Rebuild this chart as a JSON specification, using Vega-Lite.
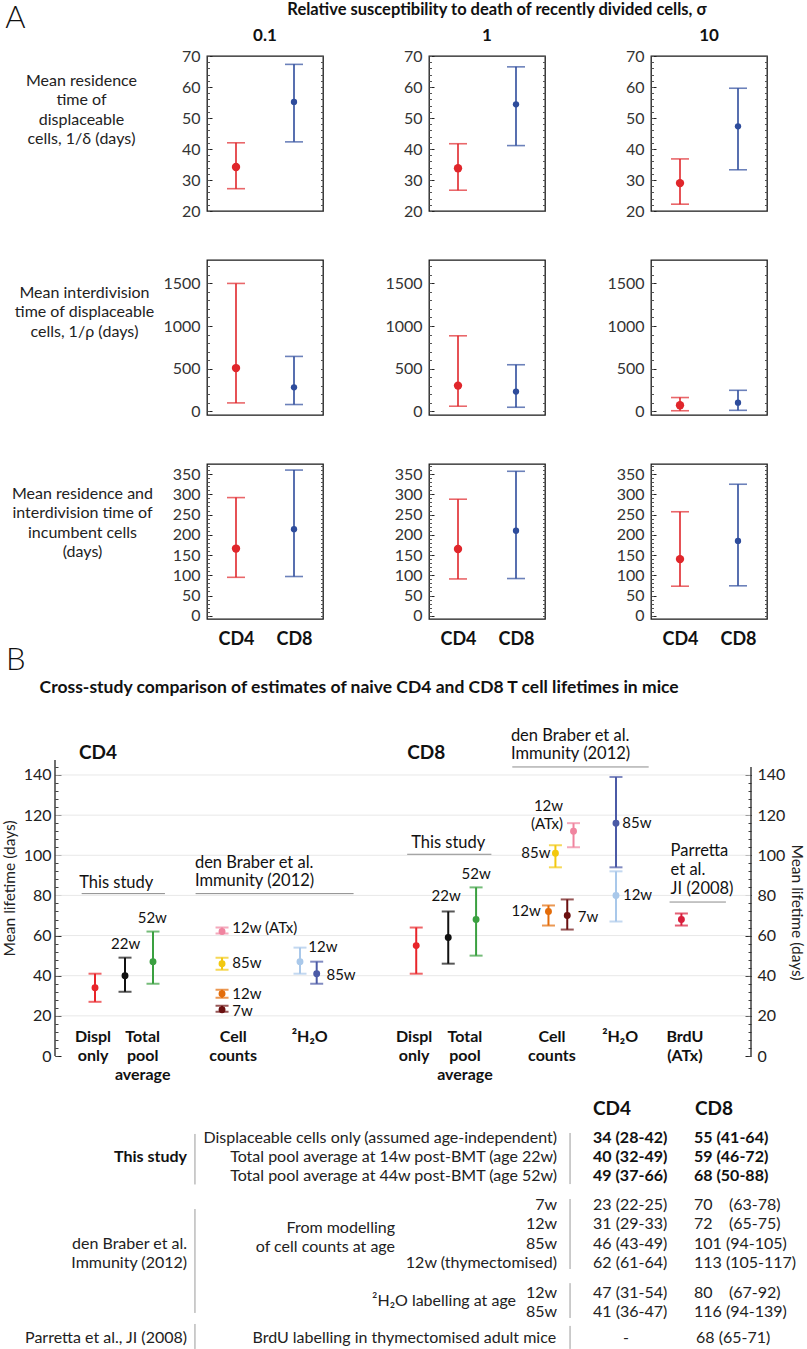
{
"$schema":"https://vega.github.io/schema/vega-lite/v6.json",
"background":"white",
"padding":{"left":2,"top":2,"right":2,"bottom":0},
"config":{"font":"Lato","view":{"stroke":null},"axis":{"labelFont":"Lato","titleFont":"Lato","labelOverlap":false},"text":{"font":"Lato"}},
"columns":3,
"bounds":"flush",
"align":{"row":"each","column":"each"},
"spacing":{"row":49,"column":106},
"resolve":{"scale":{"color":"independent","size":"independent"}},
"datasets":{
"A":[
{"row":1,"sigma":"0.1","cell":"CD4","m":34.2,"lo":27.2,"hi":42.0},
{"row":1,"sigma":"0.1","cell":"CD8","m":55.2,"lo":42.3,"hi":67.3},
{"row":1,"sigma":"1","cell":"CD4","m":33.8,"lo":26.7,"hi":41.7},
{"row":1,"sigma":"1","cell":"CD8","m":54.4,"lo":41.1,"hi":66.5},
{"row":1,"sigma":"10","cell":"CD4","m":29.0,"lo":22.2,"hi":36.8},
{"row":1,"sigma":"10","cell":"CD8","m":47.3,"lo":33.3,"hi":59.6},
{"row":2,"sigma":"0.1","cell":"CD4","m":506,"lo":97,"hi":1500},
{"row":2,"sigma":"0.1","cell":"CD8","m":280,"lo":78,"hi":643},
{"row":2,"sigma":"1","cell":"CD4","m":300,"lo":58,"hi":885},
{"row":2,"sigma":"1","cell":"CD8","m":230,"lo":46,"hi":545},
{"row":2,"sigma":"10","cell":"CD4","m":70,"lo":5,"hi":160},
{"row":2,"sigma":"10","cell":"CD8","m":100,"lo":10,"hi":245},
{"row":3,"sigma":"0.1","cell":"CD4","m":166,"lo":95,"hi":292},
{"row":3,"sigma":"0.1","cell":"CD8","m":214,"lo":97,"hi":360},
{"row":3,"sigma":"1","cell":"CD4","m":165,"lo":91,"hi":288},
{"row":3,"sigma":"1","cell":"CD8","m":210,"lo":92,"hi":357},
{"row":3,"sigma":"10","cell":"CD4","m":140,"lo":73,"hi":257},
{"row":3,"sigma":"10","cell":"CD8","m":185,"lo":74,"hi":325}
],
"B":[
{"cell":"CD4","series":"Displ","xpos":5.75,"m":34,"lo":27,"hi":41},
{"cell":"CD4","series":"Total 22w","xpos":10.06,"m":40,"lo":32,"hi":49},
{"cell":"CD4","series":"Total 52w","xpos":14.08,"m":47,"lo":36,"hi":62},
{"cell":"CD4","series":"Counts 12w ATx","xpos":24.0,"m":62,"lo":61,"hi":64},
{"cell":"CD4","series":"Counts 85w","xpos":24.0,"m":46,"lo":43,"hi":49},
{"cell":"CD4","series":"Counts 12w","xpos":24.0,"m":31,"lo":29,"hi":33},
{"cell":"CD4","series":"Counts 7w","xpos":24.0,"m":23,"lo":22,"hi":25},
{"cell":"CD4","series":"2H2O 12w","xpos":35.2,"m":47,"lo":41,"hi":54},
{"cell":"CD4","series":"2H2O 85w","xpos":37.6,"m":41,"lo":36,"hi":47},
{"cell":"CD8","series":"Displ","xpos":51.9,"m":55,"lo":41,"hi":64},
{"cell":"CD8","series":"Total 22w","xpos":56.5,"m":59,"lo":46,"hi":72},
{"cell":"CD8","series":"Total 52w","xpos":60.5,"m":68,"lo":50,"hi":84},
{"cell":"CD8","series":"Counts 12w","xpos":70.9,"m":72,"lo":65,"hi":75},
{"cell":"CD8","series":"Counts 85w","xpos":71.9,"m":101,"lo":94,"hi":105},
{"cell":"CD8","series":"Counts 7w","xpos":73.6,"m":70,"lo":63,"hi":78},
{"cell":"CD8","series":"Counts 12w ATx","xpos":74.5,"m":112,"lo":104,"hi":116},
{"cell":"CD8","series":"2H2O 85w","xpos":80.6,"m":116,"lo":94,"hi":139},
{"cell":"CD8","series":"2H2O 12w","xpos":80.6,"m":80,"lo":67,"hi":92},
{"cell":"CD8","series":"BrdU ATx","xpos":90.0,"m":68,"lo":65,"hi":71}
],
"Bgrid":[{"v":20},{"v":40},{"v":60},{"v":80},{"v":100},{"v":120},{"v":140}],
"Blines":[
{"x1":3.83,"x2":15.8,"y":80.9},
{"x1":20.2,"x2":42.9,"y":80.9},
{"x1":50.6,"x2":62.7,"y":100.5},
{"x1":65.7,"x2":85.3,"y":144.0},
{"x1":88.3,"x2":96.4,"y":76.7}
],
"Blab":[
{"text":"22w","x":10.15,"y":55.6,"cls":"tag","pos":"center"},
{"text":"52w","x":13.98,"y":68.9,"cls":"tag","pos":"center"},
{"text":"12w (ATx)","x":25.48,"y":63.6,"cls":"tag","pos":"after"},
{"text":"85w","x":25.48,"y":46.5,"cls":"tag","pos":"after"},
{"text":"12w","x":25.48,"y":30.7,"cls":"tag","pos":"after"},
{"text":"7w","x":25.48,"y":22.4,"cls":"tag","pos":"after"},
{"text":"12w","x":36.4,"y":54.3,"cls":"tag","pos":"after"},
{"text":"85w","x":39.0,"y":40.4,"cls":"tag","pos":"after"},
{"text":"22w","x":56.2,"y":79.7,"cls":"tag","pos":"center"},
{"text":"52w","x":60.5,"y":90.5,"cls":"tag","pos":"center"},
{"text":"12w\n(ATx)","x":73.0,"y":127.8,"cls":"tag2","pos":"before"},
{"text":"85w","x":71.2,"y":101.0,"cls":"tag","pos":"before"},
{"text":"12w","x":69.8,"y":72.2,"cls":"tag","pos":"before"},
{"text":"7w","x":75.1,"y":69.3,"cls":"tag","pos":"after"},
{"text":"85w","x":81.5,"y":115.9,"cls":"tag","pos":"after"},
{"text":"12w","x":81.6,"y":80.2,"cls":"tag","pos":"after"},
{"text":"This study","x":8.8,"y":86.3,"cls":"grp","pos":"center"},
{"text":"This study","x":56.5,"y":106.3,"cls":"grp","pos":"center"},
{"text":"den Braber et al.\nImmunity (2012)","x":20.1,"y":100.3,"cls":"grpm","pos":"after"},
{"text":"den Braber et al.\nImmunity (2012)","x":65.5,"y":163.6,"cls":"grpm","pos":"after"},
{"text":"Parretta\net al.\nJI (2008)","x":88.45,"y":106.0,"cls":"grpm","pos":"after"},
{"text":"Displ\nonly","x":5.46,"y":13.6,"cls":"cat","pos":"center"},
{"text":"Total\npool\naverage","x":12.6,"y":13.6,"cls":"cat","pos":"center"},
{"text":"Cell\ncounts","x":25.6,"y":13.6,"cls":"cat","pos":"center"},
{"text":"²H₂O","x":36.6,"y":13.6,"cls":"cat","pos":"center"},
{"text":"Displ\nonly","x":51.6,"y":13.6,"cls":"cat","pos":"center"},
{"text":"Total\npool\naverage","x":58.9,"y":13.6,"cls":"cat","pos":"center"},
{"text":"Cell\ncounts","x":71.4,"y":13.6,"cls":"cat","pos":"center"},
{"text":"²H₂O","x":81.2,"y":13.6,"cls":"cat","pos":"center"},
{"text":"BrdU\n(ATx)","x":90.5,"y":13.6,"cls":"cat","pos":"center"},
{"text":"CD4","x":3.45,"y":151,"cls":"head","pos":"after"},
{"text":"CD8","x":50.6,"y":151,"cls":"head","pos":"after"},
{"text":"Cross-study comparison of estimates of naive CD4 and CD8 T cell lifetimes in mice","x":43.7,"y":183.4,"cls":"title","pos":"center"},
{"text":"B","x":-5.65,"y":196.8,"cls":"panel","pos":"center"},
{"text":"A","x":-5.68,"y":516.8,"cls":"panel","pos":"center"},
{"text":"Relative susceptibility to death of recently divided cells, σ","x":63.5,"y":521.0,"cls":"atitle","pos":"center"},
{"text":"0.1","x":30.17,"y":508.3,"cls":"acol","pos":"center"},
{"text":"1","x":62.07,"y":508.3,"cls":"acol","pos":"center"},
{"text":"10","x":93.97,"y":508.3,"cls":"acol","pos":"center"}
],
"T":[
{"kind":"head","grp":"h","c":77.3,"r":0,"text":"CD4"},
{"kind":"head","grp":"h","c":91.95,"r":0,"text":"CD8"},
{"kind":"src","grp":"this","c":18.97,"r":2.48,"text":"This study"},
{"kind":"lab","grp":"this","c":72.13,"r":1.5,"text":"Displaceable cells only (assumed age-independent)"},
{"kind":"lab","grp":"this","c":72.13,"r":2.48,"text":"Total pool average at 14w post-BMT (age 22w)"},
{"kind":"lab","grp":"this","c":72.13,"r":3.46,"text":"Total pool average at 44w post-BMT (age 52w)"},
{"kind":"val","grp":"this","c":77.3,"r":1.5,"text":"34 (28-42)"},
{"kind":"val","grp":"this","c":91.81,"r":1.5,"text":"55 (41-64)"},
{"kind":"val","grp":"this","c":77.3,"r":2.48,"text":"40 (32-49)"},
{"kind":"val","grp":"this","c":91.81,"r":2.48,"text":"59 (46-72)"},
{"kind":"val","grp":"this","c":77.3,"r":3.46,"text":"49 (37-66)"},
{"kind":"val","grp":"this","c":91.81,"r":3.46,"text":"68 (50-88)"},
{"kind":"src","grp":"dbr","c":18.97,"r":6.98,"text":"den Braber et al."},
{"kind":"src","grp":"dbr","c":18.97,"r":7.96,"text":"Immunity (2012)"},
{"kind":"lab","grp":"dbr","c":48.85,"r":6.15,"text":"From modelling"},
{"kind":"lab","grp":"dbr","c":48.85,"r":7.13,"text":"of cell counts at age"},
{"kind":"lab","grp":"dbr","c":72.13,"r":4.96,"text":"7w"},
{"kind":"lab","grp":"dbr","c":72.13,"r":5.94,"text":"12w"},
{"kind":"lab","grp":"dbr","c":72.13,"r":6.98,"text":"85w"},
{"kind":"lab","grp":"dbr","c":72.13,"r":7.96,"text":"12w (thymectomised)"},
{"kind":"lab","grp":"dbr","c":66.24,"r":9.92,"text":"²H₂O labelling at age"},
{"kind":"lab","grp":"dbr","c":72.13,"r":9.51,"text":"12w"},
{"kind":"lab","grp":"dbr","c":72.13,"r":10.49,"text":"85w"},
{"kind":"val","grp":"dbr","c":77.3,"r":4.96,"text":"23 (22-25)"},
{"kind":"val","grp":"dbr","c":91.81,"r":4.96,"text":"70\u00a0\u00a0\u00a0 (63-78)"},
{"kind":"val","grp":"dbr","c":77.3,"r":5.94,"text":"31 (29-33)"},
{"kind":"val","grp":"dbr","c":91.81,"r":5.94,"text":"72\u00a0\u00a0\u00a0 (65-75)"},
{"kind":"val","grp":"dbr","c":77.3,"r":6.98,"text":"46 (43-49)"},
{"kind":"val","grp":"dbr","c":91.81,"r":6.98,"text":"101 (94-105)"},
{"kind":"val","grp":"dbr","c":77.3,"r":7.96,"text":"62 (61-64)"},
{"kind":"val","grp":"dbr","c":91.81,"r":7.96,"text":"113 (105-117)"},
{"kind":"val","grp":"dbr","c":77.3,"r":9.51,"text":"47 (31-54)"},
{"kind":"val","grp":"dbr","c":91.81,"r":9.51,"text":"80\u00a0\u00a0\u00a0 (67-92)"},
{"kind":"val","grp":"dbr","c":77.3,"r":10.49,"text":"41 (36-47)"},
{"kind":"val","grp":"dbr","c":91.81,"r":10.49,"text":"116 (94-139)"},
{"kind":"src","grp":"par","c":18.97,"r":11.83,"text":"Parretta et al., JI (2008)"},
{"kind":"lab","grp":"par","c":72.0,"r":11.83,"text":"BrdU labelling in thymectomised adult mice"},
{"kind":"val","grp":"par","c":81.6,"r":11.83,"text":"-"},
{"kind":"val","grp":"par","c":92.1,"r":11.83,"text":"68 (65-71)"}
],
"Tsep":[
{"c":20.11,"r1":1.29,"r2":3.9},
{"c":20.11,"r1":5.17,"r2":10.54},
{"c":20.11,"r1":11.11,"r2":12.4},
{"c":74.0,"r1":1.24,"r2":3.88},
{"c":74.0,"r1":4.65,"r2":8.27},
{"c":74.0,"r1":9.0,"r2":10.8},
{"c":74.0,"r1":11.21,"r2":12.4}
]
},
"concat":[
{"width":116,"height":155,"view":{"stroke":"#1a1a1a","strokeWidth":1.3},"data":{"name":"A"},"transform":[{"filter":"datum.row == 1 && datum.sigma == '0.1'"}],
"encoding":{"x":{"field":"cell","type":"nominal","scale":{"type":"point","padding":0.5,"domain":["CD4","CD8"]},"axis":null},"color":{"field":"cell","type":"nominal","scale":{"domain":["CD4","CD8"],"range":["#e0262b","#2e4c9c"]},"legend":null}},
"layer":[
{"mark":{"type":"rule","strokeWidth":1.6},"encoding":{"y":{"field":"lo","type":"quantitative","scale":{"domain":[20,70],"nice":false,"zero":false},"axis":{"orient":"left","values":[20,30,40,50,60,70],"format":"d","domain":false,"grid":false,"tickSize":-5,"tickColor":"#222","labelPadding":12,"labelFontSize":16,"labelColor":"#333","title":["Mean residence","time of","displaceable","cells, 1/δ (days)"],"titleAngle":0,"titleAlign":"center","titleBaseline":"top","titleX":-126,"titleY":16,"titleFontSize":16,"titleFontWeight":"normal","titleLineHeight":19.5,"titleColor":"#222"}},"y2":{"field":"hi"}}},
{"mark":{"type":"tick","orient":"horizontal","size":18,"thickness":1.6},"encoding":{"y":{"field":"lo","type":"quantitative","scale":{"domain":[20,70],"nice":false,"zero":false},"axis":{"orient":"left","tickCount":25,"labels":false,"title":null,"domain":false,"grid":false,"tickSize":-2.5,"tickColor":"#555"}}}},
{"mark":{"type":"tick","orient":"horizontal","size":18,"thickness":1.6},"encoding":{"y":{"field":"hi","type":"quantitative","scale":{"domain":[20,70],"nice":false,"zero":false},"axis":{"orient":"right","tickCount":25,"labels":false,"title":null,"domain":false,"grid":false,"tickSize":-2.5,"tickColor":"#555"}}}},
{"mark":{"type":"circle","opacity":1},"encoding":{"y":{"field":"m","type":"quantitative","scale":{"domain":[20,70],"nice":false,"zero":false},"axis":null},"size":{"field":"cell","type":"nominal","scale":{"domain":["CD4","CD8"],"range":[70,40]},"legend":null}}}
],"resolve":{"axis":{"y":"independent"}}},
{"width":116,"height":155,"view":{"stroke":"#1a1a1a","strokeWidth":1.3},"data":{"name":"A"},"transform":[{"filter":"datum.row == 1 && datum.sigma == '1'"}],
"encoding":{"x":{"field":"cell","type":"nominal","scale":{"type":"point","padding":0.5,"domain":["CD4","CD8"]},"axis":null},"color":{"field":"cell","type":"nominal","scale":{"domain":["CD4","CD8"],"range":["#e0262b","#2e4c9c"]},"legend":null}},
"layer":[
{"mark":{"type":"rule","strokeWidth":1.6},"encoding":{"y":{"field":"lo","type":"quantitative","scale":{"domain":[20,70],"nice":false,"zero":false},"axis":{"orient":"left","values":[20,30,40,50,60,70],"format":"d","title":null,"domain":false,"grid":false,"tickSize":-5,"tickColor":"#222","labelPadding":12,"labelFontSize":16,"labelColor":"#333"}},"y2":{"field":"hi"}}},
{"mark":{"type":"tick","orient":"horizontal","size":18,"thickness":1.6},"encoding":{"y":{"field":"lo","type":"quantitative","scale":{"domain":[20,70],"nice":false,"zero":false},"axis":{"orient":"left","tickCount":25,"labels":false,"title":null,"domain":false,"grid":false,"tickSize":-2.5,"tickColor":"#555"}}}},
{"mark":{"type":"tick","orient":"horizontal","size":18,"thickness":1.6},"encoding":{"y":{"field":"hi","type":"quantitative","scale":{"domain":[20,70],"nice":false,"zero":false},"axis":{"orient":"right","tickCount":25,"labels":false,"title":null,"domain":false,"grid":false,"tickSize":-2.5,"tickColor":"#555"}}}},
{"mark":{"type":"circle","opacity":1},"encoding":{"y":{"field":"m","type":"quantitative","scale":{"domain":[20,70],"nice":false,"zero":false},"axis":null},"size":{"field":"cell","type":"nominal","scale":{"domain":["CD4","CD8"],"range":[70,40]},"legend":null}}}
],"resolve":{"axis":{"y":"independent"}}},
{"width":116,"height":155,"view":{"stroke":"#1a1a1a","strokeWidth":1.3},"data":{"name":"A"},"transform":[{"filter":"datum.row == 1 && datum.sigma == '10'"}],
"encoding":{"x":{"field":"cell","type":"nominal","scale":{"type":"point","padding":0.5,"domain":["CD4","CD8"]},"axis":null},"color":{"field":"cell","type":"nominal","scale":{"domain":["CD4","CD8"],"range":["#e0262b","#2e4c9c"]},"legend":null}},
"layer":[
{"mark":{"type":"rule","strokeWidth":1.6},"encoding":{"y":{"field":"lo","type":"quantitative","scale":{"domain":[20,70],"nice":false,"zero":false},"axis":{"orient":"left","values":[20,30,40,50,60,70],"format":"d","title":null,"domain":false,"grid":false,"tickSize":-5,"tickColor":"#222","labelPadding":12,"labelFontSize":16,"labelColor":"#333"}},"y2":{"field":"hi"}}},
{"mark":{"type":"tick","orient":"horizontal","size":18,"thickness":1.6},"encoding":{"y":{"field":"lo","type":"quantitative","scale":{"domain":[20,70],"nice":false,"zero":false},"axis":{"orient":"left","tickCount":25,"labels":false,"title":null,"domain":false,"grid":false,"tickSize":-2.5,"tickColor":"#555"}}}},
{"mark":{"type":"tick","orient":"horizontal","size":18,"thickness":1.6},"encoding":{"y":{"field":"hi","type":"quantitative","scale":{"domain":[20,70],"nice":false,"zero":false},"axis":{"orient":"right","tickCount":25,"labels":false,"title":null,"domain":false,"grid":false,"tickSize":-2.5,"tickColor":"#555"}}}},
{"mark":{"type":"circle","opacity":1},"encoding":{"y":{"field":"m","type":"quantitative","scale":{"domain":[20,70],"nice":false,"zero":false},"axis":null},"size":{"field":"cell","type":"nominal","scale":{"domain":["CD4","CD8"],"range":[70,40]},"legend":null}}}
],"resolve":{"axis":{"y":"independent"}}},
{"width":116,"height":155,"view":{"stroke":"#1a1a1a","strokeWidth":1.3},"data":{"name":"A"},"transform":[{"filter":"datum.row == 2 && datum.sigma == '0.1'"}],
"encoding":{"x":{"field":"cell","type":"nominal","scale":{"type":"point","padding":0.5,"domain":["CD4","CD8"]},"axis":null},"color":{"field":"cell","type":"nominal","scale":{"domain":["CD4","CD8"],"range":["#e0262b","#2e4c9c"]},"legend":null}},
"layer":[
{"mark":{"type":"rule","strokeWidth":1.6},"encoding":{"y":{"field":"lo","type":"quantitative","scale":{"domain":[-45,1775],"nice":false,"zero":false},"axis":{"orient":"left","values":[0,500,1000,1500],"format":"d","domain":false,"grid":false,"tickSize":-5,"tickColor":"#222","labelPadding":12,"labelFontSize":16,"labelColor":"#333","title":["Mean interdivision","time of displaceable","cells, 1/ρ (days)"],"titleAngle":0,"titleAlign":"center","titleBaseline":"top","titleX":-123,"titleY":24,"titleFontSize":16,"titleFontWeight":"normal","titleLineHeight":19.5,"titleColor":"#222"}},"y2":{"field":"hi"}}},
{"mark":{"type":"tick","orient":"horizontal","size":18,"thickness":1.6},"encoding":{"y":{"field":"lo","type":"quantitative","scale":{"domain":[-45,1775],"nice":false,"zero":false},"axis":{"orient":"left","tickCount":17,"labels":false,"title":null,"domain":false,"grid":false,"tickSize":-2.5,"tickColor":"#555"}}}},
{"mark":{"type":"tick","orient":"horizontal","size":18,"thickness":1.6},"encoding":{"y":{"field":"hi","type":"quantitative","scale":{"domain":[-45,1775],"nice":false,"zero":false},"axis":{"orient":"right","tickCount":17,"labels":false,"title":null,"domain":false,"grid":false,"tickSize":-2.5,"tickColor":"#555"}}}},
{"mark":{"type":"circle","opacity":1},"encoding":{"y":{"field":"m","type":"quantitative","scale":{"domain":[-45,1775],"nice":false,"zero":false},"axis":null},"size":{"field":"cell","type":"nominal","scale":{"domain":["CD4","CD8"],"range":[70,40]},"legend":null}}}
],"resolve":{"axis":{"y":"independent"}}},
{"width":116,"height":155,"view":{"stroke":"#1a1a1a","strokeWidth":1.3},"data":{"name":"A"},"transform":[{"filter":"datum.row == 2 && datum.sigma == '1'"}],
"encoding":{"x":{"field":"cell","type":"nominal","scale":{"type":"point","padding":0.5,"domain":["CD4","CD8"]},"axis":null},"color":{"field":"cell","type":"nominal","scale":{"domain":["CD4","CD8"],"range":["#e0262b","#2e4c9c"]},"legend":null}},
"layer":[
{"mark":{"type":"rule","strokeWidth":1.6},"encoding":{"y":{"field":"lo","type":"quantitative","scale":{"domain":[-45,1775],"nice":false,"zero":false},"axis":{"orient":"left","values":[0,500,1000,1500],"format":"d","title":null,"domain":false,"grid":false,"tickSize":-5,"tickColor":"#222","labelPadding":12,"labelFontSize":16,"labelColor":"#333"}},"y2":{"field":"hi"}}},
{"mark":{"type":"tick","orient":"horizontal","size":18,"thickness":1.6},"encoding":{"y":{"field":"lo","type":"quantitative","scale":{"domain":[-45,1775],"nice":false,"zero":false},"axis":{"orient":"left","tickCount":17,"labels":false,"title":null,"domain":false,"grid":false,"tickSize":-2.5,"tickColor":"#555"}}}},
{"mark":{"type":"tick","orient":"horizontal","size":18,"thickness":1.6},"encoding":{"y":{"field":"hi","type":"quantitative","scale":{"domain":[-45,1775],"nice":false,"zero":false},"axis":{"orient":"right","tickCount":17,"labels":false,"title":null,"domain":false,"grid":false,"tickSize":-2.5,"tickColor":"#555"}}}},
{"mark":{"type":"circle","opacity":1},"encoding":{"y":{"field":"m","type":"quantitative","scale":{"domain":[-45,1775],"nice":false,"zero":false},"axis":null},"size":{"field":"cell","type":"nominal","scale":{"domain":["CD4","CD8"],"range":[70,40]},"legend":null}}}
],"resolve":{"axis":{"y":"independent"}}},
{"width":116,"height":155,"view":{"stroke":"#1a1a1a","strokeWidth":1.3},"data":{"name":"A"},"transform":[{"filter":"datum.row == 2 && datum.sigma == '10'"}],
"encoding":{"x":{"field":"cell","type":"nominal","scale":{"type":"point","padding":0.5,"domain":["CD4","CD8"]},"axis":null},"color":{"field":"cell","type":"nominal","scale":{"domain":["CD4","CD8"],"range":["#e0262b","#2e4c9c"]},"legend":null}},
"layer":[
{"mark":{"type":"rule","strokeWidth":1.6},"encoding":{"y":{"field":"lo","type":"quantitative","scale":{"domain":[-45,1775],"nice":false,"zero":false},"axis":{"orient":"left","values":[0,500,1000,1500],"format":"d","title":null,"domain":false,"grid":false,"tickSize":-5,"tickColor":"#222","labelPadding":12,"labelFontSize":16,"labelColor":"#333"}},"y2":{"field":"hi"}}},
{"mark":{"type":"tick","orient":"horizontal","size":18,"thickness":1.6},"encoding":{"y":{"field":"lo","type":"quantitative","scale":{"domain":[-45,1775],"nice":false,"zero":false},"axis":{"orient":"left","tickCount":17,"labels":false,"title":null,"domain":false,"grid":false,"tickSize":-2.5,"tickColor":"#555"}}}},
{"mark":{"type":"tick","orient":"horizontal","size":18,"thickness":1.6},"encoding":{"y":{"field":"hi","type":"quantitative","scale":{"domain":[-45,1775],"nice":false,"zero":false},"axis":{"orient":"right","tickCount":17,"labels":false,"title":null,"domain":false,"grid":false,"tickSize":-2.5,"tickColor":"#555"}}}},
{"mark":{"type":"circle","opacity":1},"encoding":{"y":{"field":"m","type":"quantitative","scale":{"domain":[-45,1775],"nice":false,"zero":false},"axis":null},"size":{"field":"cell","type":"nominal","scale":{"domain":["CD4","CD8"],"range":[70,40]},"legend":null}}}
],"resolve":{"axis":{"y":"independent"}}},
{"width":116,"height":155,"view":{"stroke":"#1a1a1a","strokeWidth":1.3},"data":{"name":"A"},"transform":[{"filter":"datum.row == 3 && datum.sigma == '0.1'"}],
"encoding":{"x":{"field":"cell","type":"nominal","scale":{"type":"point","padding":0.5,"domain":["CD4","CD8"]},"axis":{"orient":"bottom","title":null,"domain":false,"ticks":false,"labelFontSize":18,"labelFontWeight":"bold","labelPadding":11,"labelAngle":0,"labelColor":"#111"}},"color":{"field":"cell","type":"nominal","scale":{"domain":["CD4","CD8"],"range":["#e0262b","#2e4c9c"]},"legend":null}},
"layer":[
{"mark":{"type":"rule","strokeWidth":1.6},"encoding":{"y":{"field":"lo","type":"quantitative","scale":{"domain":[-8,375],"nice":false,"zero":false},"axis":{"orient":"left","values":[0,50,100,150,200,250,300,350],"format":"d","domain":false,"grid":false,"tickSize":-5,"tickColor":"#222","labelPadding":12,"labelFontSize":16,"labelColor":"#333","title":["Mean residence and","interdivision time of","incumbent cells","(days)"],"titleAngle":0,"titleAlign":"center","titleBaseline":"top","titleX":-125,"titleY":21,"titleFontSize":16,"titleFontWeight":"normal","titleLineHeight":19.5,"titleColor":"#222"}},"y2":{"field":"hi"}}},
{"mark":{"type":"tick","orient":"horizontal","size":18,"thickness":1.6},"encoding":{"y":{"field":"lo","type":"quantitative","scale":{"domain":[-8,375],"nice":false,"zero":false},"axis":{"orient":"left","tickCount":37,"labels":false,"title":null,"domain":false,"grid":false,"tickSize":-2.5,"tickColor":"#555"}}}},
{"mark":{"type":"tick","orient":"horizontal","size":18,"thickness":1.6},"encoding":{"y":{"field":"hi","type":"quantitative","scale":{"domain":[-8,375],"nice":false,"zero":false},"axis":{"orient":"right","tickCount":37,"labels":false,"title":null,"domain":false,"grid":false,"tickSize":-2.5,"tickColor":"#555"}}}},
{"mark":{"type":"circle","opacity":1},"encoding":{"y":{"field":"m","type":"quantitative","scale":{"domain":[-8,375],"nice":false,"zero":false},"axis":null},"size":{"field":"cell","type":"nominal","scale":{"domain":["CD4","CD8"],"range":[70,40]},"legend":null}}}
],"resolve":{"axis":{"y":"independent"}}},
{"width":116,"height":155,"view":{"stroke":"#1a1a1a","strokeWidth":1.3},"data":{"name":"A"},"transform":[{"filter":"datum.row == 3 && datum.sigma == '1'"}],
"encoding":{"x":{"field":"cell","type":"nominal","scale":{"type":"point","padding":0.5,"domain":["CD4","CD8"]},"axis":{"orient":"bottom","title":null,"domain":false,"ticks":false,"labelFontSize":18,"labelFontWeight":"bold","labelPadding":11,"labelAngle":0,"labelColor":"#111"}},"color":{"field":"cell","type":"nominal","scale":{"domain":["CD4","CD8"],"range":["#e0262b","#2e4c9c"]},"legend":null}},
"layer":[
{"mark":{"type":"rule","strokeWidth":1.6},"encoding":{"y":{"field":"lo","type":"quantitative","scale":{"domain":[-8,375],"nice":false,"zero":false},"axis":{"orient":"left","values":[0,50,100,150,200,250,300,350],"format":"d","title":null,"domain":false,"grid":false,"tickSize":-5,"tickColor":"#222","labelPadding":12,"labelFontSize":16,"labelColor":"#333"}},"y2":{"field":"hi"}}},
{"mark":{"type":"tick","orient":"horizontal","size":18,"thickness":1.6},"encoding":{"y":{"field":"lo","type":"quantitative","scale":{"domain":[-8,375],"nice":false,"zero":false},"axis":{"orient":"left","tickCount":37,"labels":false,"title":null,"domain":false,"grid":false,"tickSize":-2.5,"tickColor":"#555"}}}},
{"mark":{"type":"tick","orient":"horizontal","size":18,"thickness":1.6},"encoding":{"y":{"field":"hi","type":"quantitative","scale":{"domain":[-8,375],"nice":false,"zero":false},"axis":{"orient":"right","tickCount":37,"labels":false,"title":null,"domain":false,"grid":false,"tickSize":-2.5,"tickColor":"#555"}}}},
{"mark":{"type":"circle","opacity":1},"encoding":{"y":{"field":"m","type":"quantitative","scale":{"domain":[-8,375],"nice":false,"zero":false},"axis":null},"size":{"field":"cell","type":"nominal","scale":{"domain":["CD4","CD8"],"range":[70,40]},"legend":null}}}
],"resolve":{"axis":{"y":"independent"}}},
{"width":116,"height":155,"view":{"stroke":"#1a1a1a","strokeWidth":1.3},"data":{"name":"A"},"transform":[{"filter":"datum.row == 3 && datum.sigma == '10'"}],
"encoding":{"x":{"field":"cell","type":"nominal","scale":{"type":"point","padding":0.5,"domain":["CD4","CD8"]},"axis":{"orient":"bottom","title":null,"domain":false,"ticks":false,"labelFontSize":18,"labelFontWeight":"bold","labelPadding":11,"labelAngle":0,"labelColor":"#111"}},"color":{"field":"cell","type":"nominal","scale":{"domain":["CD4","CD8"],"range":["#e0262b","#2e4c9c"]},"legend":null}},
"layer":[
{"mark":{"type":"rule","strokeWidth":1.6},"encoding":{"y":{"field":"lo","type":"quantitative","scale":{"domain":[-8,375],"nice":false,"zero":false},"axis":{"orient":"left","values":[0,50,100,150,200,250,300,350],"format":"d","title":null,"domain":false,"grid":false,"tickSize":-5,"tickColor":"#222","labelPadding":12,"labelFontSize":16,"labelColor":"#333"}},"y2":{"field":"hi"}}},
{"mark":{"type":"tick","orient":"horizontal","size":18,"thickness":1.6},"encoding":{"y":{"field":"lo","type":"quantitative","scale":{"domain":[-8,375],"nice":false,"zero":false},"axis":{"orient":"left","tickCount":37,"labels":false,"title":null,"domain":false,"grid":false,"tickSize":-2.5,"tickColor":"#555"}}}},
{"mark":{"type":"tick","orient":"horizontal","size":18,"thickness":1.6},"encoding":{"y":{"field":"hi","type":"quantitative","scale":{"domain":[-8,375],"nice":false,"zero":false},"axis":{"orient":"right","tickCount":37,"labels":false,"title":null,"domain":false,"grid":false,"tickSize":-2.5,"tickColor":"#555"}}}},
{"mark":{"type":"circle","opacity":1},"encoding":{"y":{"field":"m","type":"quantitative","scale":{"domain":[-8,375],"nice":false,"zero":false},"axis":null},"size":{"field":"cell","type":"nominal","scale":{"domain":["CD4","CD8"],"range":[70,40]},"legend":null}}}
],"resolve":{"axis":{"y":"independent"}}},
{"width":116,"height":388,
"resolve":{"scale":{"y":"independent"},"axis":{"y":"independent"}},
"layer":[
{"data":{"name":"Bgrid"},"mark":{"type":"rule","color":"#e8e8e8","strokeWidth":1},"encoding":{"x":{"datum":0,"type":"quantitative","scale":{"domain":[0,100],"range":[-152,544],"nice":false,"zero":false},"axis":null},"x2":{"datum":100},"y":{"field":"v","type":"quantitative","scale":{"domain":[0,193.3],"nice":false,"zero":false},"axis":null}}},
{"data":{"values":[{}]},"mark":{"type":"rule","color":"#222","strokeWidth":1.3},"encoding":{"x":{"datum":0,"type":"quantitative","scale":{"domain":[0,100],"range":[-152,544],"nice":false,"zero":false},"axis":null},"y":{"datum":0,"type":"quantitative","scale":{"domain":[0,193.3],"nice":false,"zero":false},"axis":null},"y2":{"datum":147.5}}},
{"data":{"values":[{}]},"mark":{"type":"rule","color":"#222","strokeWidth":1.3},"encoding":{"x":{"datum":100,"type":"quantitative","scale":{"domain":[0,100],"range":[-152,544],"nice":false,"zero":false},"axis":null},"y":{"datum":0,"type":"quantitative","scale":{"domain":[0,193.3],"nice":false,"zero":false},"axis":null},"y2":{"datum":144}}},
{"data":{"name":"Blines"},"mark":{"type":"rule","color":"#8c8c8c","strokeWidth":1},"encoding":{"x":{"field":"x1","type":"quantitative","scale":{"domain":[0,100],"range":[-152,544],"nice":false,"zero":false},"axis":null},"x2":{"field":"x2"},"y":{"field":"y","type":"quantitative","scale":{"domain":[0,193.3],"nice":false,"zero":false},"axis":null}}},
{"data":{"name":"B"},"mark":{"type":"rule","strokeWidth":2},"encoding":{"x":{"field":"xpos","type":"quantitative","scale":{"domain":[0,100],"range":[-152,544],"nice":false,"zero":false},"axis":null},"y":{"field":"lo","type":"quantitative","scale":{"domain":[0,193.3],"nice":false,"zero":false},"axis":{"orient":"left","offset":152,"values":[0,20,40,60,80,100,120,140],"domain":false,"tickSize":-6,"tickColor":"#222","labelPadding":10,"labelFontSize":16,"labelColor":"#222","grid":false,"title":"Mean lifetime (days)","titleFontSize":15.5,"titleFontWeight":"normal","titleColor":"#222","titleAngle":-90,"titleX":-46,"titleY":220,"titleAlign":"center","titleBaseline":"middle"}},"y2":{"field":"hi"},"color":{"field":"series","type":"nominal","scale":{"domain":["Displ","Total 22w","Total 52w","Counts 12w ATx","Counts 85w","Counts 12w","Counts 7w","2H2O 12w","2H2O 85w","BrdU ATx"],"range":["#e8252a","#111111","#3aa040","#f0849f","#f2c80f","#e36c0a","#6b1010","#a9c8ea","#4b5aa6","#d81e3c"]},"legend":null}}},
{"data":{"name":"B"},"mark":{"type":"tick","orient":"horizontal","size":13,"thickness":2},"encoding":{"x":{"field":"xpos","type":"quantitative","scale":{"domain":[0,100],"range":[-152,544],"nice":false,"zero":false},"axis":null},"y":{"field":"lo","type":"quantitative","scale":{"domain":[0,193.3],"nice":false,"zero":false},"axis":{"orient":"right","offset":428,"values":[0,20,40,60,80,100,120,140],"domain":false,"tickSize":-6,"tickColor":"#222","labelPadding":12,"labelFontSize":16,"labelColor":"#222","grid":false,"title":"Mean lifetime (days)","titleFontSize":15.5,"titleFontWeight":"normal","titleColor":"#222","titleAngle":90,"titleX":45,"titleY":244,"titleAlign":"center","titleBaseline":"middle"}},"color":{"field":"series","type":"nominal","legend":null}}},
{"data":{"name":"B"},"mark":{"type":"tick","orient":"horizontal","size":13,"thickness":2},"encoding":{"x":{"field":"xpos","type":"quantitative","scale":{"domain":[0,100],"range":[-152,544],"nice":false,"zero":false},"axis":null},"y":{"field":"hi","type":"quantitative","scale":{"domain":[0,193.3],"nice":false,"zero":false},"axis":{"orient":"left","offset":152,"values":[0,4,8,12,16,20,24,28,32,36,40,44,48,52,56,60,64,68,72,76,80,84,88,92,96,100,104,108,112,116,120,124,128,132,136,140,144],"labels":false,"domain":false,"grid":false,"tickSize":-3,"tickColor":"#444","title":null}},"color":{"field":"series","type":"nominal","legend":null}}},
{"data":{"name":"B"},"mark":{"type":"circle","opacity":1,"size":48},"encoding":{"x":{"field":"xpos","type":"quantitative","scale":{"domain":[0,100],"range":[-152,544],"nice":false,"zero":false},"axis":null},"y":{"field":"m","type":"quantitative","scale":{"domain":[0,193.3],"nice":false,"zero":false},"axis":{"orient":"right","offset":428,"values":[0,4,8,12,16,20,24,28,32,36,40,44,48,52,56,60,64,68,72,76,80,84,88,92,96,100,104,108,112,116,120,124,128,132,136,140],"labels":false,"domain":false,"grid":false,"tickSize":-3,"tickColor":"#444","title":null}},"color":{"field":"series","type":"nominal","legend":null}}},
{"data":{"name":"Blab"},"transform":[{"filter":"datum.cls == 'tag' && datum.pos == 'center'"}],"mark":{"type":"text","fontSize":15,"align":"center","baseline":"middle","color":"#111"},"encoding":{"x":{"field":"x","type":"quantitative","scale":{"domain":[0,100],"range":[-152,544],"nice":false,"zero":false},"axis":null},"y":{"field":"y","type":"quantitative","scale":{"domain":[0,193.3],"nice":false,"zero":false},"axis":null},"text":{"field":"text","type":"nominal"}}},
{"data":{"name":"Blab"},"transform":[{"filter":"datum.cls == 'tag' && datum.pos == 'after'"}],"mark":{"type":"text","fontSize":15,"align":"left","baseline":"middle","color":"#111"},"encoding":{"x":{"field":"x","type":"quantitative","scale":{"domain":[0,100],"range":[-152,544],"nice":false,"zero":false},"axis":null},"y":{"field":"y","type":"quantitative","scale":{"domain":[0,193.3],"nice":false,"zero":false},"axis":null},"text":{"field":"text","type":"nominal"}}},
{"data":{"name":"Blab"},"transform":[{"filter":"datum.cls == 'tag' && datum.pos == 'before'"}],"mark":{"type":"text","fontSize":15,"align":"right","baseline":"middle","color":"#111"},"encoding":{"x":{"field":"x","type":"quantitative","scale":{"domain":[0,100],"range":[-152,544],"nice":false,"zero":false},"axis":null},"y":{"field":"y","type":"quantitative","scale":{"domain":[0,193.3],"nice":false,"zero":false},"axis":null},"text":{"field":"text","type":"nominal"}}},
{"data":{"name":"Blab"},"transform":[{"filter":"datum.cls == 'tag2'"}],"mark":{"type":"text","fontSize":15,"align":"right","baseline":"top","lineBreak":"\n","lineHeight":17.7,"color":"#111"},"encoding":{"x":{"field":"x","type":"quantitative","scale":{"domain":[0,100],"range":[-152,544],"nice":false,"zero":false},"axis":null},"y":{"field":"y","type":"quantitative","scale":{"domain":[0,193.3],"nice":false,"zero":false},"axis":null},"text":{"field":"text","type":"nominal"}}},
{"data":{"name":"Blab"},"transform":[{"filter":"datum.cls == 'grp'"}],"mark":{"type":"text","fontSize":16.5,"align":"center","baseline":"middle","color":"#111"},"encoding":{"x":{"field":"x","type":"quantitative","scale":{"domain":[0,100],"range":[-152,544],"nice":false,"zero":false},"axis":null},"y":{"field":"y","type":"quantitative","scale":{"domain":[0,193.3],"nice":false,"zero":false},"axis":null},"text":{"field":"text","type":"nominal"}}},
{"data":{"name":"Blab"},"transform":[{"filter":"datum.cls == 'grpm'"}],"mark":{"type":"text","fontSize":16.5,"align":"left","baseline":"top","lineBreak":"\n","lineHeight":18.7,"color":"#111"},"encoding":{"x":{"field":"x","type":"quantitative","scale":{"domain":[0,100],"range":[-152,544],"nice":false,"zero":false},"axis":null},"y":{"field":"y","type":"quantitative","scale":{"domain":[0,193.3],"nice":false,"zero":false},"axis":null},"text":{"field":"text","type":"nominal"}}},
{"data":{"name":"Blab"},"transform":[{"filter":"datum.cls == 'cat'"}],"mark":{"type":"text","fontSize":16,"fontWeight":"bold","align":"center","baseline":"top","lineBreak":"\n","lineHeight":19,"color":"#111"},"encoding":{"x":{"field":"x","type":"quantitative","scale":{"domain":[0,100],"range":[-152,544],"nice":false,"zero":false},"axis":null},"y":{"field":"y","type":"quantitative","scale":{"domain":[0,193.3],"nice":false,"zero":false},"axis":null},"text":{"field":"text","type":"nominal"}}},
{"data":{"name":"Blab"},"transform":[{"filter":"datum.cls == 'head'"}],"mark":{"type":"text","fontSize":19,"fontWeight":"bold","align":"left","baseline":"middle","color":"#111"},"encoding":{"x":{"field":"x","type":"quantitative","scale":{"domain":[0,100],"range":[-152,544],"nice":false,"zero":false},"axis":null},"y":{"field":"y","type":"quantitative","scale":{"domain":[0,193.3],"nice":false,"zero":false},"axis":null},"text":{"field":"text","type":"nominal"}}},
{"data":{"name":"Blab"},"transform":[{"filter":"datum.cls == 'title'"}],"mark":{"type":"text","fontSize":17.5,"fontWeight":"bold","align":"center","baseline":"middle","color":"#111"},"encoding":{"x":{"field":"x","type":"quantitative","scale":{"domain":[0,100],"range":[-152,544],"nice":false,"zero":false},"axis":null},"y":{"field":"y","type":"quantitative","scale":{"domain":[0,193.3],"nice":false,"zero":false},"axis":null},"text":{"field":"text","type":"nominal"}}},
{"data":{"name":"Blab"},"transform":[{"filter":"datum.cls == 'atitle'"}],"mark":{"type":"text","fontSize":16.5,"fontWeight":"bold","align":"center","baseline":"middle","color":"#111"},"encoding":{"x":{"field":"x","type":"quantitative","scale":{"domain":[0,100],"range":[-152,544],"nice":false,"zero":false},"axis":null},"y":{"field":"y","type":"quantitative","scale":{"domain":[0,193.3],"nice":false,"zero":false},"axis":null},"text":{"field":"text","type":"nominal"}}},
{"data":{"name":"Blab"},"transform":[{"filter":"datum.cls == 'acol'"}],"mark":{"type":"text","fontSize":17,"fontWeight":"bold","align":"center","baseline":"middle","color":"#111"},"encoding":{"x":{"field":"x","type":"quantitative","scale":{"domain":[0,100],"range":[-152,544],"nice":false,"zero":false},"axis":null},"y":{"field":"y","type":"quantitative","scale":{"domain":[0,193.3],"nice":false,"zero":false},"axis":null},"text":{"field":"text","type":"nominal"}}},
{"data":{"name":"Blab"},"transform":[{"filter":"datum.cls == 'panel'"}],"mark":{"type":"text","fontSize":31,"fontWeight":300,"align":"center","baseline":"middle","color":"#111"},"encoding":{"x":{"field":"x","type":"quantitative","scale":{"domain":[0,100],"range":[-152,544],"nice":false,"zero":false},"axis":null},"y":{"field":"y","type":"quantitative","scale":{"domain":[0,193.3],"nice":false,"zero":false},"axis":null},"text":{"field":"text","type":"nominal"}}},
{"data":{"name":"Tsep"},"mark":{"type":"rule","color":"#9a9a9a","strokeWidth":1},"encoding":{"x":{"field":"c","type":"quantitative","scale":{"domain":[0,100],"range":[-152,544],"nice":false,"zero":false},"axis":null},"y":{"field":"r1","type":"quantitative","scale":{"domain":[0,12],"range":[441,673.2],"nice":false,"zero":false},"axis":null},"y2":{"field":"r2"}}},
{"data":{"name":"T"},"transform":[{"filter":"datum.kind == 'lab' || (datum.kind == 'src' && datum.grp != 'this')"}],"mark":{"type":"text","fontSize":16,"align":"right","baseline":"middle","color":"#222"},"encoding":{"x":{"field":"c","type":"quantitative","scale":{"domain":[0,100],"range":[-152,544],"nice":false,"zero":false},"axis":null},"y":{"field":"r","type":"quantitative","scale":{"domain":[0,12],"range":[441,673.2],"nice":false,"zero":false},"axis":null},"text":{"field":"text","type":"nominal"}}},
{"data":{"name":"T"},"transform":[{"filter":"datum.kind == 'src' && datum.grp == 'this'"}],"mark":{"type":"text","fontSize":16,"fontWeight":"bold","align":"right","baseline":"middle","color":"#111"},"encoding":{"x":{"field":"c","type":"quantitative","scale":{"domain":[0,100],"range":[-152,544],"nice":false,"zero":false},"axis":null},"y":{"field":"r","type":"quantitative","scale":{"domain":[0,12],"range":[441,673.2],"nice":false,"zero":false},"axis":null},"text":{"field":"text","type":"nominal"}}},
{"data":{"name":"T"},"transform":[{"filter":"datum.kind == 'val' && datum.grp != 'this'"}],"mark":{"type":"text","fontSize":16,"align":"left","baseline":"middle","color":"#222"},"encoding":{"x":{"field":"c","type":"quantitative","scale":{"domain":[0,100],"range":[-152,544],"nice":false,"zero":false},"axis":null},"y":{"field":"r","type":"quantitative","scale":{"domain":[0,12],"range":[441,673.2],"nice":false,"zero":false},"axis":null},"text":{"field":"text","type":"nominal"}}},
{"data":{"name":"T"},"transform":[{"filter":"datum.kind == 'val' && datum.grp == 'this'"}],"mark":{"type":"text","fontSize":16,"fontWeight":"bold","align":"left","baseline":"middle","color":"#111"},"encoding":{"x":{"field":"c","type":"quantitative","scale":{"domain":[0,100],"range":[-152,544],"nice":false,"zero":false},"axis":null},"y":{"field":"r","type":"quantitative","scale":{"domain":[0,12],"range":[441,673.2],"nice":false,"zero":false},"axis":null},"text":{"field":"text","type":"nominal"}}},
{"data":{"name":"T"},"transform":[{"filter":"datum.kind == 'head'"}],"mark":{"type":"text","fontSize":19,"fontWeight":"bold","align":"left","baseline":"middle","color":"#111"},"encoding":{"x":{"field":"c","type":"quantitative","scale":{"domain":[0,100],"range":[-152,544],"nice":false,"zero":false},"axis":null},"y":{"field":"r","type":"quantitative","scale":{"domain":[0,12],"range":[441,673.2],"nice":false,"zero":false},"axis":null},"text":{"field":"text","type":"nominal"}}}
]}
]
}
